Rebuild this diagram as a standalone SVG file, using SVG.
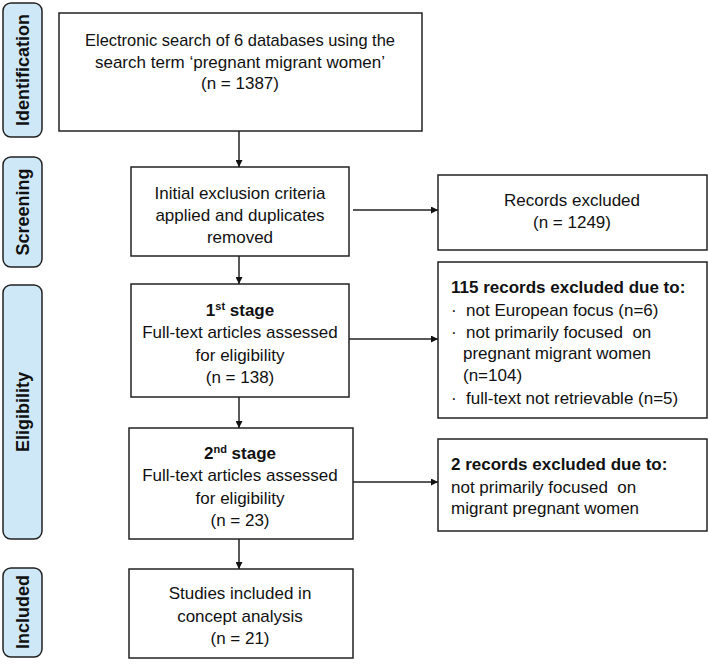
<svg xmlns="http://www.w3.org/2000/svg" width="709" height="668" viewBox="0 0 709 668">
<style>
.box{fill:#fff;stroke:#222;stroke-width:1.5}
.side{fill:#cfe8f8;stroke:#222;stroke-width:1.5}
.t{font-family:"Liberation Sans",Arial,sans-serif;font-size:17px;fill:#111}
.c{text-anchor:middle}
.b{font-weight:bold}
.st{font-family:"Liberation Sans",Arial,sans-serif;font-size:18px;font-weight:bold;fill:#111;text-anchor:middle}
.sup{font-size:11px}
.edge{stroke:#222;stroke-width:1.5;fill:none;marker-end:url(#ah)}
</style>
<defs>
<marker id="ah" viewBox="0 0 10 10" refX="10" refY="5" markerWidth="7" markerHeight="7" markerUnits="userSpaceOnUse" orient="auto">
<path d="M0,0 L10,5 L0,10 z" fill="#111"/>
</marker>
</defs>
<rect width="709" height="668" fill="#fff"/>
<g id="stage-identification"><rect class="side" x="3" y="3" width="39" height="134" rx="8"/><text class="st" transform="translate(29,70) rotate(-90)">Identification</text></g>
<g id="stage-screening"><rect class="side" x="3" y="157" width="39" height="110" rx="8"/><text class="st" transform="translate(29,212) rotate(-90)">Screening</text></g>
<g id="stage-eligibility"><rect class="side" x="3" y="285" width="39" height="254" rx="8"/><text class="st" transform="translate(29,412) rotate(-90)">Eligibility</text></g>
<g id="stage-included"><rect class="side" x="3" y="568" width="39" height="89" rx="8"/><text class="st" transform="translate(29,612) rotate(-90)">Included</text></g>

<g id="n1"><rect class="box" x="59" y="13" width="363" height="118"/>
<text class="t c" x="240" y="46" textLength="310" lengthAdjust="spacingAndGlyphs">Electronic search of 6 databases using the</text>
<text class="t c" x="240" y="68">search term ‘pregnant migrant women’</text>
<text class="t c" x="240" y="89">(n = 1387)</text></g>

<g id="n2"><rect class="box" x="131" y="167" width="218" height="89"/>
<text class="t c" x="240" y="199">Initial exclusion criteria</text>
<text class="t c" x="240" y="221">applied and duplicates</text>
<text class="t c" x="240" y="243">removed</text></g>

<g id="n3"><rect class="box" x="131" y="284" width="218" height="113"/>
<text class="t c b" x="240" y="316">1<tspan class="sup" dy="-6">st</tspan><tspan dy="6"> stage</tspan></text>
<text class="t c" x="240" y="338">Full-text articles assessed</text>
<text class="t c" x="240" y="361">for eligibility</text>
<text class="t c" x="240" y="383">(n = 138)</text></g>

<g id="n4"><rect class="box" x="129" y="428" width="224" height="111"/>
<text class="t c b" x="240" y="459">2<tspan class="sup" dy="-6">nd</tspan><tspan dy="6"> stage</tspan></text>
<text class="t c" x="240" y="481">Full-text articles assessed</text>
<text class="t c" x="240" y="504">for eligibility</text>
<text class="t c" x="240" y="526">(n = 23)</text></g>

<g id="n5"><rect class="box" x="129" y="569" width="224" height="89"/>
<text class="t c" x="240" y="599">Studies included in</text>
<text class="t c" x="240" y="622">concept analysis</text>
<text class="t c" x="240" y="644">(n = 21)</text></g>

<g id="r1"><rect class="box" x="438" y="175" width="269" height="75"/>
<text class="t c" x="572" y="206">Records excluded</text>
<text class="t c" x="572" y="228">(n = 1249)</text></g>

<g id="r2"><rect class="box" x="438" y="262" width="269" height="156"/>
<text class="t b" x="451" y="293">115 records excluded due to:</text>
<text class="t" x="451" y="316">·&#160; not European focus (n=6)</text>
<text class="t" x="451" y="338">·&#160; not primarily focused&#160; on</text>
<text class="t" x="463" y="359">pregnant migrant women</text>
<text class="t" x="463" y="381">(n=104)</text>
<text class="t" x="451" y="404">·&#160; full-text not retrievable (n=5)</text></g>

<g id="r3"><rect class="box" x="438" y="439" width="269" height="92"/>
<text class="t b" x="451" y="470">2 records excluded due to:</text>
<text class="t" x="451" y="493">not primarily focused&#160; on</text>
<text class="t" x="451" y="514">migrant pregnant women</text></g>

<g id="connectors">
<line class="edge" x1="239" y1="131" x2="239" y2="167"/>
<line class="edge" x1="239" y1="256" x2="239" y2="284"/>
<line class="edge" x1="239" y1="397" x2="239" y2="428"/>
<line class="edge" x1="239" y1="539" x2="239" y2="569"/>
<line class="edge" x1="353" y1="210" x2="438" y2="210"/>
<line class="edge" x1="349" y1="339" x2="438" y2="339"/>
<line class="edge" x1="353" y1="482" x2="438" y2="482"/>
</g>
</svg>
